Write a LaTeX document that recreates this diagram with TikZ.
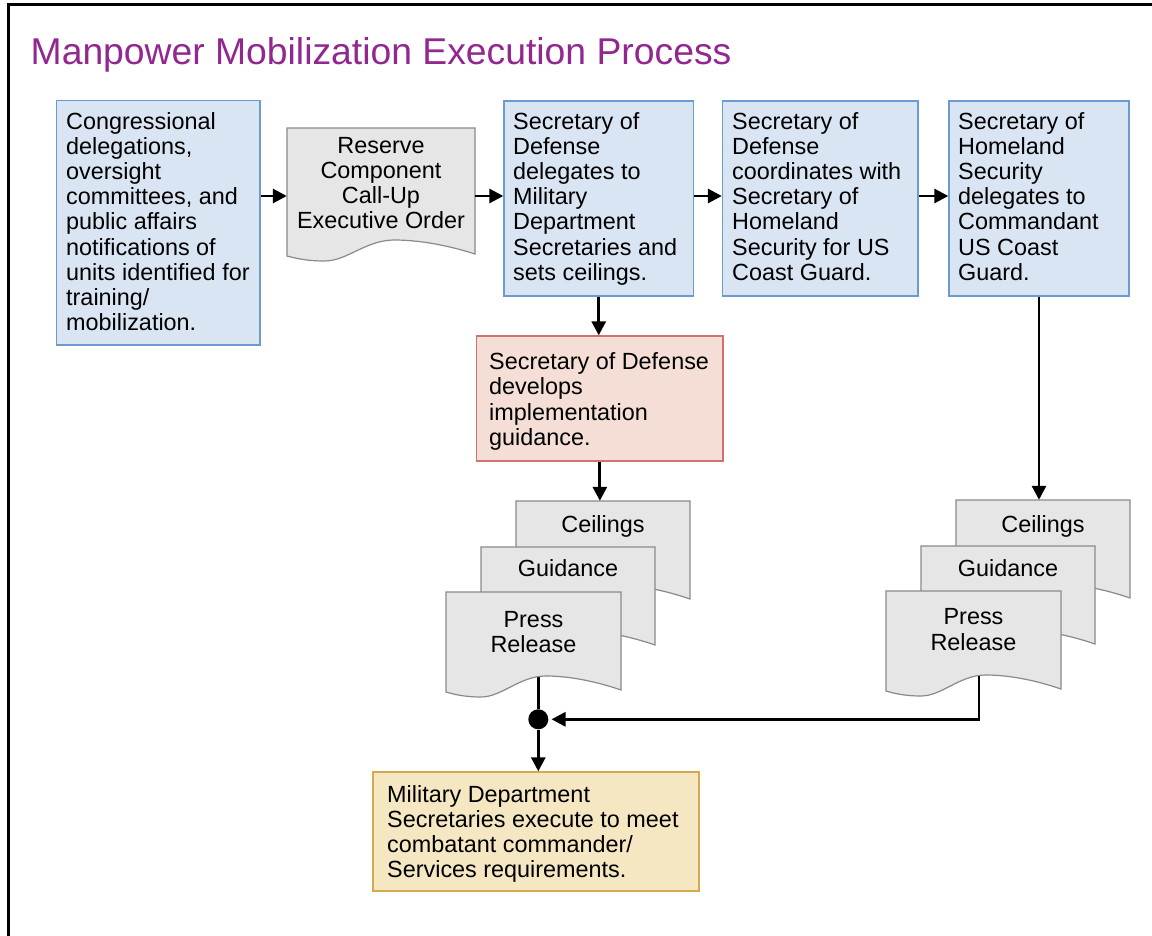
\documentclass[tikz,border=0pt]{standalone}
\usepackage{fontspec}
\setmainfont{Liberation Sans}
\usetikzlibrary{arrows.meta,calc}
\definecolor{bluefill}{HTML}{DAE5F3}
\definecolor{blueline}{HTML}{6C9BD2}
\definecolor{grayfill}{HTML}{E6E6E6}
\definecolor{grayline}{HTML}{8A8A8A}
\definecolor{redfill}{HTML}{F4DED6}
\definecolor{redline}{HTML}{D07272}
\definecolor{yelfill}{HTML}{F6E7C3}
\definecolor{yelline}{HTML}{D4AA4E}
\definecolor{titlec}{HTML}{92278F}
\newcommand\boxat[6]{\node[#1, minimum width={#5-#3}, minimum height={#6-#4}] (#2) at ({(#3+#5)/2},{(#4+#6)/2}) {};}
\newcommand\docshape[4]{%
  \filldraw[docline] (#1,#2) -- (#3,#2) -- (#3,#4)
  .. controls ({#3-0.15*(#3-#1)},{#4-9}) and ({#1+0.70*(#3-#1)},{#4-14}) .. ({#1+0.57*(#3-#1)},{#4-14})
  .. controls ({#1+0.42*(#3-#1)},{#4-14}) and ({#1+0.32*(#3-#1)},{#4+7}) .. ({#1+0.2*(#3-#1)},{#4+7})
  .. controls ({#1+0.1*(#3-#1)},{#4+7}) and ({#1+0.04*(#3-#1)},{#4+4}) .. (#1,{#4+2}) -- cycle;}
\begin{document}
\begin{tikzpicture}[x=1pt,y=-1pt,
  bbox/.style={draw=blueline, fill=bluefill, line width=1.3pt, inner sep=0},
  rbox/.style={draw=redline, fill=redfill, line width=1.3pt, inner sep=0},
  ybox/.style={draw=yelline, fill=yelfill, line width=1.3pt, inner sep=0},
  ghost/.style={inner sep=0},
  docline/.style={draw=grayline, fill=grayfill, line width=1.2pt},
  txt/.style={font=\fontsize{23.4}{25.2}\selectfont, inner sep=0, align=left, anchor=north west},
  dtxt/.style={font=\fontsize{23.4}{25.2}\selectfont, inner sep=0, align=center},
  conn/.style={line width=2.9pt},
  arr/.style={line width=2.9pt, -{Triangle[length=14pt,width=14pt]}}]
\useasboundingbox (0,0) rectangle (1152,936);
\draw[line width=3pt] (8,940) -- (8,5) -- (1156,5);
\node[anchor=base west, text=titlec, font=\fontsize{37.3}{40}\selectfont, inner sep=0] (title) at (30.5,65) {Manpower Mobilization Execution Process};
\coordinate (row) at (0,196);
% boxes
\boxat{bbox}{b1}{56.5}{100.7}{260}{345}
\boxat{bbox}{b3}{504}{101}{693.5}{296}
\boxat{bbox}{b4}{722.5}{101}{918}{296}
\boxat{bbox}{b5}{949}{101}{1129}{296}
\boxat{rbox}{red}{476.7}{336}{723}{461}
\boxat{ybox}{yb}{373}{772}{699}{891}
% document frames (invisible anchors)
\boxat{ghost}{rc}{287}{128}{475}{254}
\boxat{ghost}{c1}{516}{501}{690}{599}
\boxat{ghost}{g1}{481}{547}{655}{645}
\boxat{ghost}{p1}{446}{592}{621}{690}
\boxat{ghost}{c2}{956}{500}{1130}{598}
\boxat{ghost}{g2}{921}{546}{1095}{644}
\boxat{ghost}{p2}{886}{591}{1061}{689}
\node[circle, fill=black, minimum size=20pt, inner sep=0] (dot) at (538.3,719.3) {};
% lines leaving the press releases (under the documents)
\draw[conn] (dot |- p1.center) -- (dot);
\draw[arr, shorten >=3pt] ([xshift=5.5pt]p2.center) |- (dot.east);
% documents
\docshape{287}{128}{475}{254}
\docshape{516}{501}{690}{599}
\docshape{481}{547}{655}{645}
\docshape{446}{592}{621}{690}
\docshape{956}{500}{1130}{598}
\docshape{921}{546}{1095}{644}
\docshape{886}{591}{1061}{689}
% texts
\node[txt] (b1t) at (66,112) {Congressional\\delegations,\\oversight\\committees, and\\public affairs\\notifications of\\units identified for\\training/\\mobilization.};
\node[txt] (b3t) at (513,112) {Secretary of\\Defense\\delegates to\\Military\\Department\\Secretaries and\\sets ceilings.};
\node[txt] (b4t) at (732,112) {Secretary of\\Defense\\coordinates with\\Secretary of\\Homeland\\Security for US\\Coast Guard.};
\node[txt] (b5t) at (958,112) {Secretary of\\Homeland\\Security\\delegates to\\Commandant\\US Coast\\Guard.};
\node[txt] (redt) at (489,352.5) {Secretary of Defense\\develops\\implementation\\guidance.};
\node[txt] (ybt) at (387,785.2) {Military Department\\Secretaries execute to meet\\combatant commander/\\Services requirements.};
\node[dtxt, anchor=north] (rct) at (381,136.8) {Reserve\\Component\\Call-Up\\Executive Order};
\node[dtxt, anchor=base] (c1t) at (603,532.7) {Ceilings};
\node[dtxt, anchor=base] (g1t) at (568,576) {Guidance};
\node[dtxt, anchor=north] (p1t) at (533.5,610.8) {Press\\Release};
\node[dtxt, anchor=base] (c2t) at (1043,532.7) {Ceilings};
\node[dtxt, anchor=base] (g2t) at (1008,576) {Guidance};
\node[dtxt, anchor=north] (p2t) at (973.5,608.5) {Press\\Release};
% connectors
\draw[arr] (b1.east |- row) -- (rc.west |- row);
\draw[arr] (rc.east |- row) -- (b3.west |- row);
\draw[arr] (b3.east |- row) -- (b4.west |- row);
\draw[arr] (b4.east |- row) -- (b5.west |- row);
\draw[arr] (b3.south) -- (b3.south |- red.north);
\draw[arr] (red.south) -- (red.south |- c1.north);
\draw[arr] (b5.south) -- (b5.south |- c2.north);
\draw[arr] (dot) -- (dot |- yb.north);
\end{tikzpicture}
\end{document}
